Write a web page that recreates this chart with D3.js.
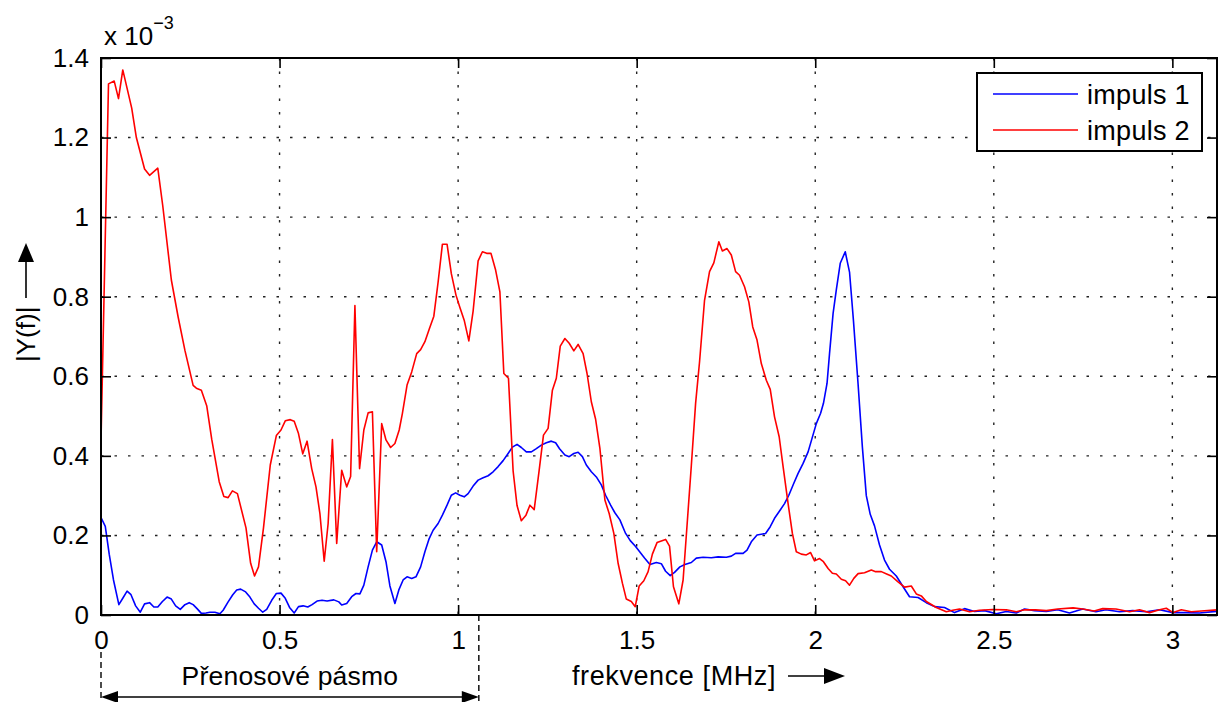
<!DOCTYPE html>
<html lang="cs">
<head>
<meta charset="UTF-8">
<title>|Y(f)| impuls 1 / impuls 2</title>
<script src="https://d3js.org/d3.v7.min.js"></script>
<style>
  body { margin: 0; background: #fff; }
  svg { font-family: "Liberation Sans", Arial, sans-serif; }
  .tick text { font-size: 26px; fill: #000; }
</style>
</head>
<body>
<svg id="chart" width="1226" height="702"></svg>
<script>
// frequency [MHz] and |Y(f)| [x 1e-3]
const freq1 = [0,0.012,0.023,0.035,0.050,0.061,0.073,0.084,0.097,0.110,0.122,0.136,0.148,0.159,0.172,0.185,0.197,0.209,0.222,0.235,0.247,0.258,0.269,0.281,0.294,0.305,0.319,0.333,0.342,0.356,0.369,0.380,0.391,0.405,0.417,0.429,0.441,0.453,0.464,0.478,0.491,0.504,0.516,0.528,0.541,0.553,0.566,0.579,0.591,0.605,0.619,0.633,0.652,0.666,0.674,0.688,0.702,0.714,0.725,0.736,0.748,0.760,0.772,0.786,0.798,0.809,0.823,0.834,0.846,0.857,0.870,0.882,0.895,0.907,0.919,0.930,0.944,0.956,0.969,0.981,0.993,1.005,1.017,1.028,1.042,1.056,1.070,1.084,1.098,1.112,1.126,1.140,1.152,1.165,1.177,1.191,1.205,1.219,1.233,1.247,1.261,1.273,1.284,1.299,1.311,1.324,1.336,1.348,1.359,1.373,1.387,1.401,1.413,1.427,1.439,1.453,1.469,1.482,1.497,1.510,1.522,1.537,1.555,1.569,1.581,1.594,1.606,1.621,1.635,1.653,1.667,1.686,1.709,1.728,1.751,1.765,1.777,1.798,1.809,1.821,1.837,1.861,1.874,1.886,1.902,1.914,1.926,1.940,1.952,1.966,1.980,1.991,2.003,2.015,2.023,2.033,2.040,2.050,2.059,2.070,2.084,2.096,2.107,2.120,2.132,2.143,2.154,2.166,2.180,2.194,2.208,2.227,2.246,2.264,2.288,2.311,2.334,2.362,2.390,2.418,2.446,2.474,2.507,2.535,2.563,2.586,2.614,2.647,2.679,2.712,2.749,2.786,2.814,2.852,2.889,2.927,2.964,3.002,3.039,3.076,3.123];
const impuls1 = [0.245,0.223,0.153,0.088,0.026,0.042,0.060,0.051,0.023,0.007,0.028,0.031,0.020,0.020,0.034,0.045,0.040,0.023,0.014,0.026,0.031,0.026,0.016,0.004,0.005,0.007,0.007,0.003,0.012,0.033,0.051,0.063,0.065,0.058,0.045,0.028,0.017,0.007,0.014,0.037,0.054,0.055,0.042,0.019,0.005,0.021,0.023,0.020,0.026,0.035,0.037,0.035,0.038,0.033,0.025,0.029,0.046,0.054,0.053,0.075,0.121,0.163,0.184,0.176,0.134,0.073,0.029,0.063,0.088,0.096,0.092,0.096,0.121,0.159,0.192,0.213,0.230,0.251,0.276,0.301,0.307,0.301,0.297,0.305,0.324,0.339,0.345,0.350,0.360,0.373,0.388,0.406,0.422,0.429,0.421,0.410,0.410,0.418,0.427,0.433,0.437,0.433,0.418,0.402,0.398,0.406,0.409,0.398,0.377,0.360,0.347,0.327,0.301,0.276,0.257,0.239,0.205,0.187,0.172,0.157,0.143,0.127,0.132,0.129,0.110,0.099,0.107,0.121,0.127,0.132,0.143,0.145,0.144,0.146,0.145,0.148,0.155,0.155,0.163,0.184,0.201,0.205,0.222,0.243,0.264,0.280,0.301,0.331,0.356,0.381,0.410,0.444,0.481,0.507,0.532,0.582,0.657,0.758,0.817,0.884,0.913,0.862,0.740,0.580,0.422,0.300,0.253,0.224,0.176,0.138,0.115,0.098,0.071,0.046,0.044,0.031,0.021,0.019,0.006,0.016,0.009,0.011,0.003,0.009,0.005,0.015,0.011,0.009,0.013,0.005,0.015,0.008,0.013,0.008,0.011,0.008,0.013,0.006,0.006,0.005,0.009];

const freq2 = [0,0.021,0.037,0.049,0.061,0.086,0.099,0.122,0.136,0.159,0.173,0.197,0.216,0.235,0.258,0.267,0.281,0.296,0.310,0.331,0.344,0.356,0.368,0.382,0.406,0.419,0.430,0.441,0.455,0.474,0.491,0.504,0.516,0.530,0.541,0.553,0.565,0.577,0.590,0.602,0.613,0.625,0.636,0.648,0.660,0.674,0.688,0.699,0.711,0.724,0.736,0.748,0.760,0.772,0.786,0.798,0.811,0.823,0.835,0.844,0.857,0.870,0.884,0.895,0.907,0.919,0.932,0.944,0.956,0.969,0.981,0.994,1.005,1.017,1.030,1.042,1.056,1.068,1.080,1.092,1.105,1.117,1.128,1.141,1.154,1.165,1.177,1.190,1.201,1.213,1.227,1.239,1.252,1.264,1.275,1.286,1.299,1.311,1.324,1.336,1.350,1.361,1.373,1.385,1.397,1.411,1.423,1.436,1.448,1.460,1.471,1.485,1.496,1.507,1.520,1.532,1.544,1.557,1.569,1.581,1.592,1.603,1.618,1.630,1.641,1.653,1.665,1.676,1.690,1.704,1.716,1.730,1.740,1.753,1.765,1.777,1.788,1.802,1.814,1.825,1.837,1.849,1.863,1.874,1.886,1.899,1.910,1.924,1.936,1.947,1.961,1.975,1.987,1.998,2.012,2.023,2.036,2.048,2.059,2.073,2.085,2.096,2.108,2.120,2.138,2.157,2.169,2.185,2.200,2.213,2.231,2.250,2.269,2.283,2.297,2.311,2.339,2.367,2.385,2.404,2.432,2.460,2.497,2.535,2.563,2.586,2.617,2.647,2.679,2.722,2.749,2.781,2.805,2.842,2.880,2.908,2.936,2.964,2.983,3.002,3.025,3.053,3.081,3.125];
const impuls2 = [0.437,1.335,1.342,1.298,1.370,1.274,1.200,1.121,1.105,1.123,1.028,0.842,0.749,0.665,0.577,0.570,0.565,0.526,0.442,0.335,0.298,0.295,0.312,0.305,0.219,0.130,0.098,0.121,0.219,0.377,0.451,0.465,0.488,0.491,0.487,0.456,0.405,0.437,0.368,0.322,0.255,0.135,0.230,0.441,0.180,0.364,0.322,0.348,0.778,0.368,0.465,0.508,0.511,0.159,0.481,0.440,0.421,0.431,0.465,0.507,0.578,0.611,0.657,0.667,0.687,0.718,0.751,0.837,0.932,0.932,0.858,0.804,0.773,0.741,0.689,0.764,0.890,0.913,0.909,0.909,0.867,0.812,0.607,0.595,0.362,0.275,0.237,0.251,0.276,0.265,0.364,0.452,0.469,0.565,0.595,0.676,0.695,0.683,0.664,0.680,0.657,0.607,0.536,0.492,0.419,0.289,0.255,0.205,0.130,0.080,0.040,0.034,0.021,0.073,0.086,0.109,0.153,0.182,0.186,0.190,0.173,0.071,0.028,0.088,0.225,0.375,0.532,0.636,0.791,0.863,0.885,0.938,0.915,0.921,0.905,0.863,0.854,0.825,0.787,0.724,0.691,0.632,0.590,0.567,0.498,0.448,0.373,0.280,0.205,0.159,0.153,0.151,0.157,0.136,0.142,0.134,0.117,0.105,0.103,0.090,0.086,0.075,0.092,0.104,0.106,0.113,0.109,0.109,0.103,0.098,0.084,0.070,0.073,0.053,0.048,0.034,0.019,0.008,0.012,0.015,0.008,0.012,0.014,0.013,0.008,0.013,0.013,0.011,0.015,0.018,0.015,0.010,0.016,0.015,0.008,0.013,0.006,0.013,0.017,0.006,0.013,0.008,0.010,0.013];

const seriesNames = ["impuls 1", "impuls 2"];
const seriesColors = ["#0000ff", "#ff0000"];
const xTicks = [0, 0.5, 1, 1.5, 2, 2.5, 3];
const yTicks = [0, 0.2, 0.4, 0.6, 0.8, 1, 1.2, 1.4];
const xDomain = [0, 3.125];
const yDomain = [0, 1.4];
const bandEdges = [0, 1.058];   // "Přenosové pásmo"

const margin = { top: 58, right: 9, bottom: 87, left: 101 };
const W = 1226, H = 702;
const width = W - margin.left - margin.right;
const height = H - margin.top - margin.bottom;

const svg = d3.select("#chart");
const g = svg.append("g").attr("transform", `translate(${margin.left},${margin.top})`);

const x = d3.scaleLinear().domain(xDomain).range([0, width]);
const y = d3.scaleLinear().domain(yDomain).range([height, 0]);

// dotted grid
g.append("g").selectAll("line.gx").data(xTicks).join("line")
  .attr("x1", d => x(d)).attr("x2", d => x(d)).attr("y1", 0).attr("y2", height)
  .attr("stroke", "#222").attr("stroke-width", 1.4).attr("stroke-dasharray", "2.5,11");
g.append("g").selectAll("line.gy").data(yTicks).join("line")
  .attr("x1", 0).attr("x2", width).attr("y1", d => y(d)).attr("y2", d => y(d))
  .attr("stroke", "#222").attr("stroke-width", 1.4).attr("stroke-dasharray", "2.5,11");

// curves
const line = d3.line().x(d => x(d[0])).y(d => y(d[1]));
const data = [d3.zip(freq1, impuls1), d3.zip(freq2, impuls2)];
g.append("defs").append("clipPath").attr("id", "clip")
  .append("rect").attr("width", width).attr("height", height);
data.forEach((pts, i) => {
  g.append("path").datum(pts)
    .attr("clip-path", "url(#clip)")
    .attr("fill", "none").attr("stroke", seriesColors[i])
    .attr("stroke-width", 1.6).attr("stroke-linejoin", "round")
    .attr("d", line);
});

// axes, ticks pointing inward
const fmt = d => String(d);
g.append("g").attr("transform", `translate(0,${height})`)
  .call(d3.axisBottom(x).tickValues(xTicks).tickFormat(fmt).tickSizeInner(-10).tickSizeOuter(0).tickPadding(15.5));
g.append("g")
  .call(d3.axisLeft(y).tickValues(yTicks).tickFormat(fmt).tickSizeInner(-10).tickSizeOuter(0).tickPadding(12));
g.append("g").call(d3.axisTop(x).tickValues(xTicks).tickFormat("").tickSizeInner(-10).tickSizeOuter(0));
g.append("g").attr("transform", `translate(${width},0)`)
  .call(d3.axisRight(y).tickValues(yTicks).tickFormat("").tickSizeInner(-10).tickSizeOuter(0));
g.selectAll(".domain").remove();
g.selectAll(".tick line").attr("stroke", "#000").attr("stroke-width", 1.6);
g.selectAll(".tick text").attr("font-family", null).attr("font-size", null);
g.append("rect").attr("width", width).attr("height", height)
  .attr("fill", "none").attr("stroke", "#000").attr("stroke-width", 2);

// exponent label
const ex = svg.append("text").attr("x", 104).attr("y", 45).attr("font-size", 26);
ex.append("tspan").text("x 10");
ex.append("tspan").attr("font-size", 18).attr("dy", -16).text("\u22123");

// y label with arrow
const yl = svg.append("g").attr("transform", "translate(35,362) rotate(-90)");
yl.append("text").attr("x", 0).attr("y", 0).attr("font-size", 26).text("|Y(f)|");
yl.append("line").attr("x1", 64).attr("x2", 100).attr("y1", -9).attr("y2", -9)
  .attr("stroke", "#000").attr("stroke-width", 1.6);
yl.append("path").attr("d", "M100,-17 L119,-9 L100,-1 Z").attr("fill", "#000");

// x label with arrow
const xlY = 685;
svg.append("text").attr("x", 572).attr("y", xlY).attr("font-size", 27)
  .attr("letter-spacing", 0.6).text("frekvence [MHz]");
svg.append("line").attr("x1", 788).attr("x2", 825).attr("y1", xlY - 9).attr("y2", xlY - 9)
  .attr("stroke", "#000").attr("stroke-width", 1.6);
svg.append("path").attr("d", `M824,${xlY - 17} L845,${xlY - 9} L824,${xlY - 1} Z`).attr("fill", "#000");

// pass band annotation
const bx0 = margin.left + x(bandEdges[0]), bx1 = margin.left + x(bandEdges[1]);
svg.append("line").attr("x1", bx0).attr("x2", bx0).attr("y1", 652).attr("y2", H)
  .attr("stroke", "#000").attr("stroke-width", 1.4).attr("stroke-dasharray", "6,4");
svg.append("line").attr("x1", bx1).attr("x2", bx1).attr("y1", margin.top + height).attr("y2", H)
  .attr("stroke", "#000").attr("stroke-width", 1.4).attr("stroke-dasharray", "6,4");
const ay = 697;
svg.append("line").attr("x1", bx0 + 10).attr("x2", bx1 - 10).attr("y1", ay).attr("y2", ay)
  .attr("stroke", "#000").attr("stroke-width", 1.6);
svg.append("path").attr("d", `M${bx0},${ay} L${bx0 + 17},${ay - 6} L${bx0 + 17},${ay + 6} Z`).attr("fill", "#000");
svg.append("path").attr("d", `M${bx1},${ay} L${bx1 - 17},${ay - 6} L${bx1 - 17},${ay + 6} Z`).attr("fill", "#000");
svg.append("text").attr("x", (bx0 + bx1) / 2).attr("y", 685).attr("font-size", 26.5)
  .attr("letter-spacing", 0.2).attr("text-anchor", "middle").text("P\u0159enosov\u00e9 p\u00e1smo");

// legend
const lg = svg.append("g").attr("transform", "translate(977,73)");
lg.append("rect").attr("width", 225).attr("height", 78)
  .attr("fill", "#fff").attr("stroke", "#000").attr("stroke-width", 2);
seriesNames.forEach((name, i) => {
  const ly = 21 + i * 36;
  lg.append("line").attr("x1", 16).attr("x2", 101).attr("y1", ly).attr("y2", ly)
    .attr("stroke", seriesColors[i]).attr("stroke-width", 1.6);
  lg.append("text").attr("x", 110).attr("y", ly + 10).attr("font-size", 27)
    .attr("letter-spacing", 0.3).text(name);
});
</script>
</body>
</html>
